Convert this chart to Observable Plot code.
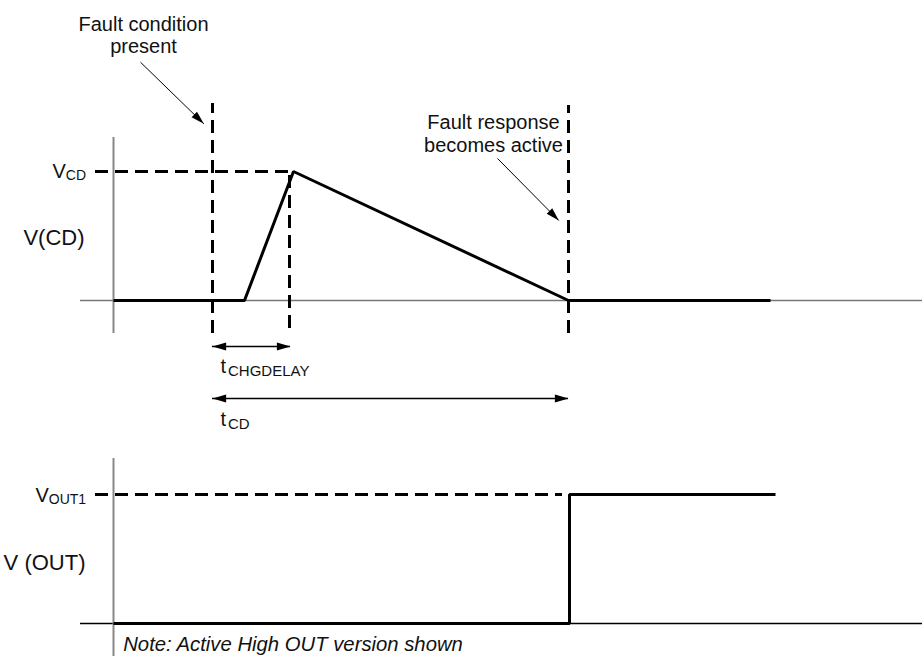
<!DOCTYPE html>
<html>
<head>
<meta charset="utf-8">
<script src="https://cdn.jsdelivr.net/npm/d3@7"></script>
<script src="https://cdn.jsdelivr.net/npm/@observablehq/plot@0.6"></script>
<style>
  html, body { margin: 0; padding: 0; background: #fff; }
  #chart { width: 922px; height: 656px; overflow: hidden; }
  #chart svg { display: block; }
</style>
</head>
<body>
<div id="chart"></div>
<script>
// ---------- data (time in arbitrary units, voltage normalised: 0 = low, 1 = level) ----------
const cdTime  = [0, 13.1, 18.0, 45.5, 65.7];
const cdValue = [0, 0, 1, 0, 0];

const outTime  = [0, 45.6, 45.6, 66.2];
const outValue = [0, 0, 1, 1];

const eventNames  = ["fault", "peak", "response"];
const eventTimes  = [9.9, 17.6, 45.5];
const eventTop    = [1.527, 0.984, 1.512];
const eventBottom = [-0.256, -0.217, -0.256];

const intervalNames = ["CHGDELAY", "CD"];
const intervalStart = [9.9, 9.9];
const intervalEnd   = [17.7, 45.5];
const intervalRow   = [-0.357, -0.760];
const intervalLabelRow = [-0.516, -0.927];

const noteLines   = ["Fault condition", "present", "Fault response", "becomes active"];
const noteTimes   = [3.0, 3.0, 38.0, 38.0];
const noteValues  = [2.137, 1.966, 1.381, 1.199];

const pointerFromT = [2.7, 38.4];
const pointerFromV = [1.847, 1.101];
const pointerToT   = [9.03, 44.53];
const pointerToV   = [1.370, 0.620];

// ---------- scales ----------
const W = 922;
const xDomain = [-11.3, 80.9];
const topY = {domain: [0, 1], range: [300, 171]};
const botY = {domain: [0, 1], range: [173, 44]};
const FONT = "'Liberation Sans', Arial, Helvetica, sans-serif";

const xs = Plot.scale({x: {domain: xDomain, range: [0, W]}});
const ysTop = Plot.scale({y: topY});

// arrow-head symbol (filled triangle, tip at the anchor point) rotated by angle (deg)
function head(angle) {
  const a = angle * Math.PI / 180, c = Math.cos(a), s = Math.sin(a);
  return {
    draw(ctx, size) {
      const r = Math.sqrt(size / Math.PI);
      const L = r * 3.4, H = r;
      const pts = [[0, 0], [-L, -H], [-L, H]].map(([px, py]) => [px * c - py * s, px * s + py * c]);
      ctx.moveTo(pts[0][0], pts[0][1]);
      ctx.lineTo(pts[1][0], pts[1][1]);
      ctx.lineTo(pts[2][0], pts[2][1]);
      ctx.closePath();
    }
  };
}

// ---------- tables ----------
const cd  = cdTime.map((t, i) => ({t, v: cdValue[i]}));
const out = outTime.map((t, i) => ({t, v: outValue[i]}));
const events = eventNames.map((name, i) => ({name, t: eventTimes[i], v1: eventBottom[i], v2: eventTop[i]}));
const intervals = intervalNames.map((name, i) => ({name, t1: intervalStart[i], t2: intervalEnd[i], v: intervalRow[i], lv: intervalLabelRow[i]}));
const notes = noteLines.map((text, i) => ({text, t: noteTimes[i], v: noteValues[i]}));
const pointers = pointerFromT.map((t, i) => ({t1: t, v1: pointerFromV[i], t2: pointerToT[i], v2: pointerToV[i]}));

const topPanel = {t1: 0, v1: -0.256, v2: 1.264, b1: -3.3, b2: 80.9};
const botPanel = {t1: 0, v1: -0.256, v2: 1.279, b1: -3.3, b2: 80.9};

const textBase = {fontFamily: FONT, fill: "#111", stroke: null};

// ---------- top panel: V(CD) ----------
const pointerMarks = pointers.map(p => {
  const dx = xs.apply(p.t2) - xs.apply(p.t1);
  const dy = ysTop.apply(p.v2) - ysTop.apply(p.v1);
  const ang = Math.atan2(dy, dx) * 180 / Math.PI;
  return Plot.dot([p], {x: "t2", y: "v2", r: 3.9, symbol: head(ang), fill: "#000", stroke: null});
});

const topChart = Plot.plot({
  width: W, height: 450,
  marginTop: 0, marginRight: 0, marginBottom: 0, marginLeft: 0,
  x: {domain: xDomain, range: [0, W], axis: null},
  y: {...topY, axis: null},
  style: {background: "transparent", overflow: "visible"},
  marks: [
    Plot.ruleY([topPanel], {y: 0, x1: "b1", x2: "b2", stroke: "#777", strokeWidth: 1.5}),
    Plot.ruleX([topPanel], {x: "t1", y1: "v1", y2: "v2", stroke: "#888", strokeWidth: 2}),
    Plot.ruleX(events, {x: "t", y1: "v1", y2: "v2", stroke: "#000", strokeWidth: 3, strokeDasharray: "13,7"}),
    Plot.ruleY([{v: 1, t1: -1.8, t2: 17.9}], {y: "v", x1: "t1", x2: "t2", stroke: "#000", strokeWidth: 3, strokeDasharray: "13,7"}),
    Plot.line(cd, {x: "t", y: "v", stroke: "#000", strokeWidth: 3, strokeLinejoin: "miter", strokeLinecap: "butt"}),
    // timing interval arrows
    Plot.ruleY(intervals, {y: "v", x1: "t1", x2: "t2", stroke: "#000", strokeWidth: 1.5}),
    Plot.dot(intervals, {x: "t1", y: "v", r: 4, symbol: head(180), fill: "#000", stroke: null}),
    Plot.dot(intervals, {x: "t2", y: "v", r: 4, symbol: head(0), fill: "#000", stroke: null}),
    // annotation pointers
    Plot.link(pointers, {x1: "t1", y1: "v1", x2: "t2", y2: "v2", stroke: "#000", strokeWidth: 1}),
    ...pointerMarks,
    // texts
    Plot.text(notes, {x: "t", y: "v", text: "text", fontSize: 20, textAnchor: "middle", ...textBase}),
    Plot.text([{t: -6.1, v: 1.003}], {x: "t", y: "v", text: () => "V", fontSize: 20, textAnchor: "start", ...textBase}),
    Plot.text([{t: -6.1, v: 1.003}], {x: "t", y: "v", text: () => "CD", fontSize: 14, textAnchor: "start", dx: 13.3, dy: 4.9, ...textBase}),
    Plot.text([{t: -2.9, v: 0.488}], {x: "t", y: "v", text: () => "V(CD)", fontSize: 22, textAnchor: "end", ...textBase}),
    Plot.text(intervals, {x: "t1", y: "lv", text: () => "t", fontSize: 20, textAnchor: "start", dx: 8, ...textBase}),
    Plot.text(intervals, {x: "t1", y: "lv", text: "name", fontSize: 15, textAnchor: "start", dx: 15.5, dy: 4.6, ...textBase})
  ]
});

// ---------- bottom panel: V(OUT) ----------
const botChart = Plot.plot({
  width: W, height: 206,
  marginTop: 0, marginRight: 0, marginBottom: 0, marginLeft: 0,
  x: {domain: xDomain, range: [0, W], axis: null},
  y: {...botY, axis: null},
  style: {background: "transparent", overflow: "visible"},
  marks: [
    Plot.ruleY([botPanel], {y: 0, x1: "b1", x2: "b2", stroke: "#000", strokeWidth: 1.5}),
    Plot.ruleX([botPanel], {x: "t1", y1: "v1", y2: "v2", stroke: "#888", strokeWidth: 2}),
    Plot.ruleY([{v: 1, t1: -1.8, t2: 44.9}], {y: "v", x1: "t1", x2: "t2", stroke: "#000", strokeWidth: 3, strokeDasharray: "13,7"}),
    Plot.line(out, {x: "t", y: "v", stroke: "#000", strokeWidth: 3, strokeLinejoin: "miter", strokeLinecap: "butt"}),
    Plot.text([{t: -7.8, v: 0.995}], {x: "t", y: "v", text: () => "V", fontSize: 20, textAnchor: "start", ...textBase}),
    Plot.text([{t: -7.8, v: 0.995}], {x: "t", y: "v", text: () => "OUT1", fontSize: 14, textAnchor: "start", dx: 13.3, dy: 3.9, ...textBase}),
    Plot.text([{t: -2.8, v: 0.473}], {x: "t", y: "v", text: () => "V (OUT)", fontSize: 22, textAnchor: "end", ...textBase}),
    Plot.text([{t: 0.97, v: -0.159}], {x: "t", y: "v", text: () => "Note: Active High OUT version shown", fontSize: 20.3, fontStyle: "italic", textAnchor: "start", ...textBase})
  ]
});

const root = document.getElementById("chart");
root.appendChild(topChart);
root.appendChild(botChart);
</script>
</body>
</html>
